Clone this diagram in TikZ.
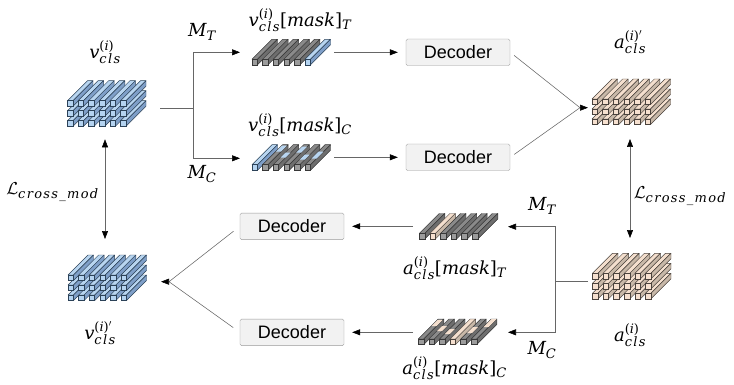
\documentclass[tikz,border=0pt]{standalone}
\usepackage{fontspec}
\setmainfont{Liberation Sans}
\newfontfamily\lblfont{DejaVu Serif}
\newfontfamily\subfont[LetterSpace=10]{DejaVu Serif}
\usetikzlibrary{arrows.meta}
\definecolor{vface}{HTML}{B4D3F0}
\definecolor{vside}{HTML}{7F9FC8}
\definecolor{vtop}{HTML}{B8D5F0}
\definecolor{vline}{HTML}{2C4258}
\definecolor{aface}{HTML}{F6E0CF}
\definecolor{aside}{HTML}{C8B8A8}
\definecolor{atop}{HTML}{F4DFCE}
\definecolor{aline}{HTML}{4A423C}
\definecolor{mface}{HTML}{9C9C9C}
\definecolor{mside}{HTML}{6E6E6E}
\definecolor{mtop}{HTML}{8A8A8A}
\definecolor{mline}{HTML}{383838}
\tikzset{
  x=1pt, y=-1pt,
  decoderbox/.style={draw=black!40, fill=black!5, rounded corners=1.5pt, minimum width=104pt, minimum height=26.5pt, inner sep=0pt, font=\fontsize{18}{20}\selectfont},
  lbl/.style={inner sep=0pt, font=\lblfont\fontsize{18}{20}\selectfont},
  link/.style={draw=black!60, line width=0.55pt},
  flow/.style={draw=black!60, line width=0.55pt, -{Stealth[black,length=8pt,width=6pt,inset=0pt]}},
  both/.style={draw=black!60, line width=0.55pt, {Stealth[black,length=8pt,width=6pt,inset=0pt]}-{Stealth[black,length=8pt,width=6pt,inset=0pt]}},
}
% one bar of a block: front corner x,y; colours for front, top, side, outline
\newcommand{\onebar}[6]{%
  \fill[#4,draw=#6,line width=0.45pt,line join=round] (#1,#2) -- ++(20,-20) -- ++(5.5,0) -- ++(-20,20) -- cycle;
  \fill[#5,draw=#6,line width=0.45pt,line join=round] (#1+5.5,#2) -- ++(20,-20) -- ++(0,5.5) -- ++(-20,20) -- cycle;
  \fill[#3,draw=#6,line width=0.5pt] (#1,#2) rectangle ++(5.5,5.5);
}
\newcommand{\vbar}[2]{\onebar{#1}{#2}{vface}{vtop}{vside}{vline}}
\newcommand{\abar}[2]{\onebar{#1}{#2}{aface}{atop}{aside}{aline}}
\newcommand{\plainbar}[2]{\onebar{#1}{#2}{mface}{mtop}{mside}{mline}}
% three rows of six bars
\newcommand{\vblock}[2]{\foreach \r in {2,1,0} \foreach \c in {0,...,5} {\vbar{#1+10.6*\c}{#2+10*\r}}}
\newcommand{\ablock}[2]{\foreach \r in {2,1,0} \foreach \c in {0,...,5} {\abar{#1+10.6*\c}{#2+10*\r}}}
% patch on the top of a masked bar, between two fractions of its length
\newcommand{\patch}[5]{%
  \fill[#5] (#1+0.3+20*#3,#2-20*#3) -- (#1+0.3+20*#4,#2-20*#4) -- ++(5,0) -- (#1+5.3+20*#3,#2-20*#3) -- cycle;
}
\newcommand{\subsz}{\subfont\fontsize{13}{13}\selectfont\itshape}
\newcommand{\supsz}{\lblfont\fontsize{13}{13}\selectfont}
\newcommand{\idx}{\mbox{\supsz(\textit{i})}}
\newcommand{\idxp}{\mbox{\supsz(\textit{i})$^{\prime}$}}
\newcommand{\cls}{\mbox{\subsz cls}}
\newcommand{\vcls}{$\mbox{\itshape v}_{\cls}^{\idx}$}
\newcommand{\acls}{$\mbox{\itshape a}_{\cls}^{\idx}$}
\newcommand{\vclsp}{$\mbox{\itshape v}_{\cls}^{\idxp}$}
\newcommand{\aclsp}{$\mbox{\itshape a}_{\cls}^{\idxp}$}
\newcommand{\masked}[1]{[\textit{mask}]$_{\mbox{\subsz #1}}$}
\newcommand{\crossmod}{$\mathcal{L}_{\mbox{\subsz cross\_mod}}$}
\newcommand{\maskname}[1]{$\mbox{\itshape M}_{\mbox{\subsz #1}}$}
\begin{document}
\begin{tikzpicture}
\useasboundingbox (0,0) rectangle (734,385);

% feature blocks
\vblock{67.5}{100.7}
\ablock{592}{99}
\vblock{68}{275}
\ablock{592.5}{273.3}

% visual stream, temporal mask
\foreach \c in {0,...,4} {\plainbar{252+10.6*\c}{59.3}}
\vbar{305}{59.3}

% visual stream, channel mask
\vbar{252}{164.7}
\foreach \c in {1,...,5} {\plainbar{252+10.6*\c}{164.7}}
\patch{262.6}{164.7}{0.65}{0.95}{vtop}
\patch{273.2}{164.7}{0.35}{0.6}{vtop}
\patch{283.8}{164.7}{0.6}{0.9}{vtop}
\patch{294.4}{164.7}{0.25}{0.5}{vtop}
\patch{305}{164.7}{0.3}{0.65}{vtop}

% audio stream, temporal mask
\plainbar{419.3}{233.5}
\abar{429.9}{233.5}
\foreach \c in {2,...,5} {\plainbar{419.3+10.6*\c}{233.5}}

% audio stream, channel mask
\foreach \c in {0,...,2} {\plainbar{418.3+10.6*\c}{339}}
\abar{450.1}{339}
\foreach \c in {4,5} {\plainbar{418.3+10.6*\c}{339}}
\patch{418.3}{339}{0.65}{0.95}{atop}
\patch{428.9}{339}{0.4}{0.65}{atop}
\patch{439.5}{339}{0.25}{0.5}{atop}
\patch{460.7}{339}{0.3}{0.6}{atop}
\patch{471.3}{339}{0.6}{1}{atop}

% decoders
\node[decoderbox] (d1) at (458,52.3) {Decoder};
\node[decoderbox] (d2) at (458,157.3) {Decoder};
\node[decoderbox] (d3) at (292,226.3) {Decoder};
\node[decoderbox] (d4) at (292,332.3) {Decoder};

% connector anchors around the blocks
\coordinate (vout) at (160,108);
\coordinate (vsplit) at (193.3,108);
\coordinate (vtin) at (240,52.3);
\coordinate (vcin) at (240,158.3);
\coordinate (vtout) at (334,52.3);
\coordinate (vcout) at (334,157.3);
\coordinate (amerge) at (580,107.7);
\coordinate (amergetip) at (588,107.7);
\coordinate (aout) at (588,281);
\coordinate (asplit) at (555.7,281);
\coordinate (atin) at (508,226.7);
\coordinate (acin) at (508,332.3);
\coordinate (atout) at (413,226.3);
\coordinate (acout) at (413,332.3);
\coordinate (vmerge) at (169,281.7);
\coordinate (vmergetip) at (161,281.7);
\coordinate (vtop1) at (105,139.3);
\coordinate (vbot1) at (105,239);
\coordinate (atop1) at (630,139);
\coordinate (abot1) at (630,238);

\draw[link] (vout) -- (vsplit);
\draw[flow] (vsplit) |- (vtin);
\draw[flow] (vsplit) |- (vcin);
\draw[flow,shorten >=8pt] (vtout) -- (d1.west);
\draw[flow,shorten >=8pt] (vcout) -- (d2.west);
\draw[link,shorten <=5pt] (d1.east) -- (amerge);
\draw[link,shorten <=5pt] (d2.east) -- (amerge);
\draw[flow] (amerge) -- (amergetip);
\draw[link] (aout) -- (asplit);
\draw[flow] (asplit) |- (atin);
\draw[flow] (asplit) |- (acin);
\draw[flow,shorten >=8pt] (atout) -- (d3.east);
\draw[flow,shorten >=8pt] (acout) -- (d4.east);
\draw[link,shorten <=8pt] (d3.west) -- (vmerge);
\draw[link,shorten <=8pt] (d4.west) -- (vmerge);
\draw[flow] (vmerge) -- (vmergetip);
\draw[both] (vtop1) -- (vbot1);
\draw[both] (atop1) -- (abot1);

% labels
\node[lbl] (l1) at (105,52) {\vcls};
\node[lbl] (l2) at (300,20) {\vcls\masked{T}};
\node[lbl] (l3) at (300,125) {\vcls\masked{C}};
\node[lbl] (l4) at (630,42) {\aclsp};
\node[lbl] (l5) at (100,333) {\vclsp};
\node[lbl] (l6) at (454.6,268) {\acls\masked{T}};
\node[lbl] (l7) at (454.6,368) {\acls\masked{C}};
\node[lbl] (l8) at (630,335) {\acls};
\node[lbl] (m1) at (202,32) {\maskname{T}};
\node[lbl] (m2) at (202,174) {\maskname{C}};
\node[lbl] (m3) at (542,206) {\maskname{T}};
\node[lbl] (m4) at (542,350) {\maskname{C}};
\node[lbl] (c1) at (52.5,192) {\crossmod};
\node[lbl] (c2) at (680,196) {\crossmod};
\end{tikzpicture}
\end{document}
